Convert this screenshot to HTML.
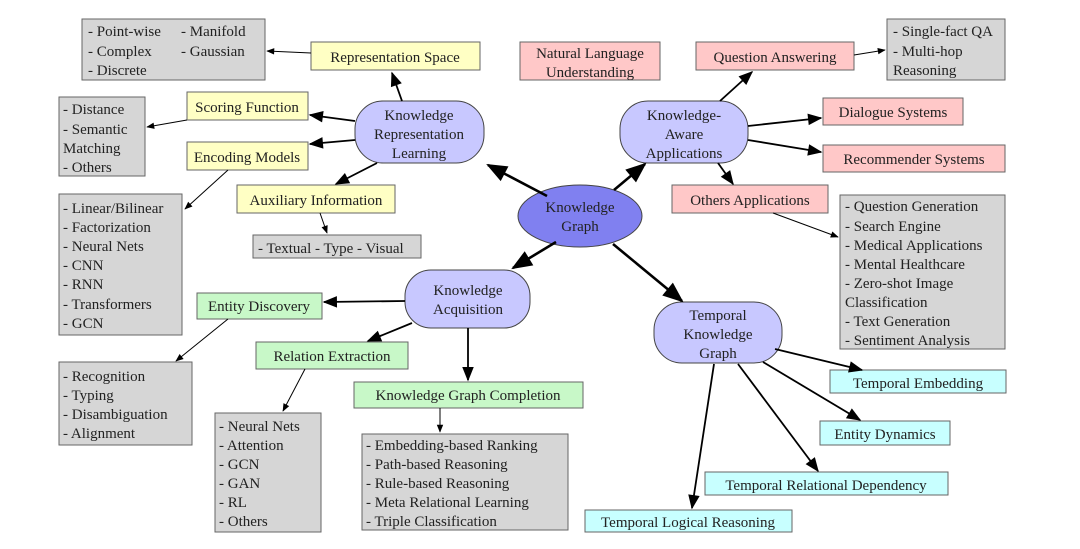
<!DOCTYPE html>
<html><head><meta charset="utf-8"><style>
html,body{margin:0;padding:0;background:#fff}
svg text{font-family:"Liberation Serif",serif;font-size:15px;fill:#222}
</style></head><body>
<svg width="1080" height="544" viewBox="0 0 1080 544" xmlns="http://www.w3.org/2000/svg">
<defs>
<marker id="b" viewBox="0 0 10 10" refX="9" refY="5" markerWidth="9" markerHeight="8" orient="auto"><path d="M0,1L10,5L0,9z" fill="#000"/></marker>
</defs>
<rect width="1080" height="544" fill="#fff"/>
<g stroke="#666" stroke-width="1">
<rect x="82" y="19" width="183" height="61" fill="#d6d6d6"/>
<rect x="59" y="97" width="86" height="79" fill="#d6d6d6"/>
<rect x="59" y="194" width="123" height="141" fill="#d6d6d6"/>
<rect x="253" y="235" width="168" height="23" fill="#d6d6d6"/>
<rect x="887" y="19" width="118" height="61" fill="#d6d6d6"/>
<rect x="840" y="195" width="165" height="154" fill="#d6d6d6"/>
<rect x="59" y="362" width="133" height="83" fill="#d6d6d6"/>
<rect x="215" y="413" width="106" height="119" fill="#d6d6d6"/>
<rect x="362" y="434" width="206" height="96" fill="#d6d6d6"/>
<rect x="311" y="42" width="169" height="28" fill="#ffffc4"/>
<rect x="187" y="92" width="121" height="28" fill="#ffffc4"/>
<rect x="187" y="142" width="121" height="28" fill="#ffffc4"/>
<rect x="237" y="185" width="158" height="28" fill="#ffffc4"/>
<rect x="520" y="42" width="140" height="38" fill="#ffc8c8"/>
<rect x="696" y="42" width="158" height="28" fill="#ffc8c8"/>
<rect x="823" y="98" width="140" height="27" fill="#ffc8c8"/>
<rect x="823" y="145" width="182" height="27" fill="#ffc8c8"/>
<rect x="672" y="185" width="156" height="28" fill="#ffc8c8"/>
<rect x="197" y="293" width="125" height="26" fill="#c8f8c8"/>
<rect x="256" y="342" width="152" height="27" fill="#c8f8c8"/>
<rect x="354" y="382" width="229" height="26" fill="#c8f8c8"/>
<rect x="830" y="370" width="176" height="23" fill="#c8ffff"/>
<rect x="820" y="421" width="130" height="24" fill="#c8ffff"/>
<rect x="705" y="472" width="243" height="23" fill="#c8ffff"/>
<rect x="585" y="510" width="207" height="22" fill="#c8ffff"/>
<rect x="355" y="101" width="129" height="62" rx="28" fill="#c8c8ff" stroke="#444"/>
<rect x="620" y="101" width="128" height="62" rx="28" fill="#c8c8ff" stroke="#444"/>
<rect x="405" y="270" width="125" height="58" rx="26" fill="#c8c8ff" stroke="#444"/>
<rect x="654" y="302" width="128" height="61" rx="28" fill="#c8c8ff" stroke="#444"/>
<ellipse cx="580" cy="216" rx="62" ry="31" fill="#8080f0" stroke="#444"/>
</g>
<g stroke="#000" stroke-width="2.6" fill="none" marker-end="url(#b)">
<line x1="547" y1="196" x2="488" y2="165"/>
<line x1="614" y1="190" x2="645" y2="164"/>
<line x1="556" y1="242" x2="513" y2="268"/>
<line x1="613" y1="244" x2="682" y2="301"/>
</g>
<g stroke="#000" stroke-width="1.8" fill="none" marker-end="url(#b)">
<line x1="402" y1="101" x2="392" y2="73"/>
<line x1="355" y1="121" x2="310" y2="115"/>
<line x1="355" y1="140" x2="310" y2="144"/>
<line x1="377" y1="163" x2="336" y2="184"/>
<line x1="720" y1="101" x2="752" y2="72"/>
<line x1="748" y1="126" x2="821" y2="118"/>
<line x1="748" y1="140" x2="821" y2="152"/>
<line x1="718" y1="163" x2="733" y2="184"/>
<line x1="405" y1="301" x2="324" y2="302"/>
<line x1="412" y1="323" x2="368" y2="341"/>
<line x1="468" y1="328" x2="468" y2="380"/>
<line x1="775" y1="349" x2="862" y2="370"/>
<line x1="763" y1="362" x2="860" y2="420"/>
<line x1="738" y1="364" x2="818" y2="471"/>
<line x1="714" y1="364" x2="692" y2="508"/>
</g>
<g stroke="#000" stroke-width="1" fill="none" marker-end="url(#b)">
<line x1="311" y1="53" x2="267" y2="51"/>
<line x1="187" y1="120" x2="147" y2="127"/>
<line x1="228" y1="170" x2="185" y2="209"/>
<line x1="320" y1="213" x2="327" y2="233"/>
<line x1="854" y1="55" x2="885" y2="50"/>
<line x1="773" y1="213" x2="838" y2="237"/>
<line x1="228" y1="319" x2="176" y2="361"/>
<line x1="305" y1="369" x2="283" y2="411"/>
<line x1="440" y1="408" x2="440" y2="432"/>
</g>
<text x="88" y="36">- Point-wise</text><text x="181" y="36">- Manifold</text>
<text x="88" y="56">- Complex</text><text x="181" y="56">- Gaussian</text>
<text x="88" y="75">- Discrete</text>
<text x="395" y="62" text-anchor="middle">Representation Space</text>
<text x="247" y="112" text-anchor="middle">Scoring Function</text>
<text x="247" y="162" text-anchor="middle">Encoding Models</text>
<text x="316" y="205" text-anchor="middle">Auxiliary Information</text>
<text x="63" y="114">- Distance</text><text x="63" y="134">- Semantic</text><text x="63" y="153">Matching</text><text x="63" y="172">- Others</text>
<text x="63" y="213">- Linear/Bilinear</text><text x="63" y="232">- Factorization</text><text x="63" y="251">- Neural Nets</text><text x="63" y="270">- CNN</text><text x="63" y="289">- RNN</text><text x="63" y="309">- Transformers</text><text x="63" y="328">- GCN</text>
<text x="258" y="253">- Textual - Type - Visual</text>
<text x="419" y="120" text-anchor="middle">Knowledge</text><text x="419" y="139" text-anchor="middle">Representation</text><text x="419" y="158" text-anchor="middle">Learning</text>
<text x="580" y="212" text-anchor="middle">Knowledge</text><text x="580" y="231" text-anchor="middle">Graph</text>
<text x="590" y="58" text-anchor="middle">Natural Language</text><text x="590" y="77" text-anchor="middle">Understanding</text>
<text x="775" y="62" text-anchor="middle">Question Answering</text>
<text x="893" y="36">- Single-fact QA</text><text x="893" y="56">- Multi-hop</text><text x="893" y="75">Reasoning</text>
<text x="684" y="120" text-anchor="middle">Knowledge-</text><text x="684" y="139" text-anchor="middle">Aware</text><text x="684" y="158" text-anchor="middle">Applications</text>
<text x="893" y="117" text-anchor="middle">Dialogue Systems</text>
<text x="914" y="164" text-anchor="middle">Recommender Systems</text>
<text x="750" y="205" text-anchor="middle">Others Applications</text>
<text x="845" y="211">- Question Generation</text><text x="845" y="231">- Search Engine</text><text x="845" y="250">- Medical Applications</text><text x="845" y="269">- Mental Healthcare</text><text x="845" y="288">- Zero-shot Image</text><text x="845" y="307">Classification</text><text x="845" y="326">- Text Generation</text><text x="845" y="345">- Sentiment Analysis</text>
<text x="468" y="295" text-anchor="middle">Knowledge</text><text x="468" y="314" text-anchor="middle">Acquisition</text>
<text x="259" y="311" text-anchor="middle">Entity Discovery</text>
<text x="332" y="361" text-anchor="middle">Relation Extraction</text>
<text x="468" y="400" text-anchor="middle">Knowledge Graph Completion</text>
<text x="63" y="381">- Recognition</text><text x="63" y="400">- Typing</text><text x="63" y="419">- Disambiguation</text><text x="63" y="438">- Alignment</text>
<text x="219" y="431">- Neural Nets</text><text x="219" y="450">- Attention</text><text x="219" y="469">- GCN</text><text x="219" y="488">- GAN</text><text x="219" y="507">- RL</text><text x="219" y="526">- Others</text>
<text x="366" y="450">- Embedding-based Ranking</text><text x="366" y="469">- Path-based Reasoning</text><text x="366" y="488">- Rule-based Reasoning</text><text x="366" y="507">- Meta Relational Learning</text><text x="366" y="526">- Triple Classification</text>
<text x="718" y="320" text-anchor="middle">Temporal</text><text x="718" y="339" text-anchor="middle">Knowledge</text><text x="718" y="358" text-anchor="middle">Graph</text>
<text x="918" y="388" text-anchor="middle">Temporal Embedding</text>
<text x="885" y="439" text-anchor="middle">Entity Dynamics</text>
<text x="826" y="490" text-anchor="middle">Temporal Relational Dependency</text>
<text x="688" y="527" text-anchor="middle">Temporal Logical Reasoning</text>
</svg>
</body></html>
